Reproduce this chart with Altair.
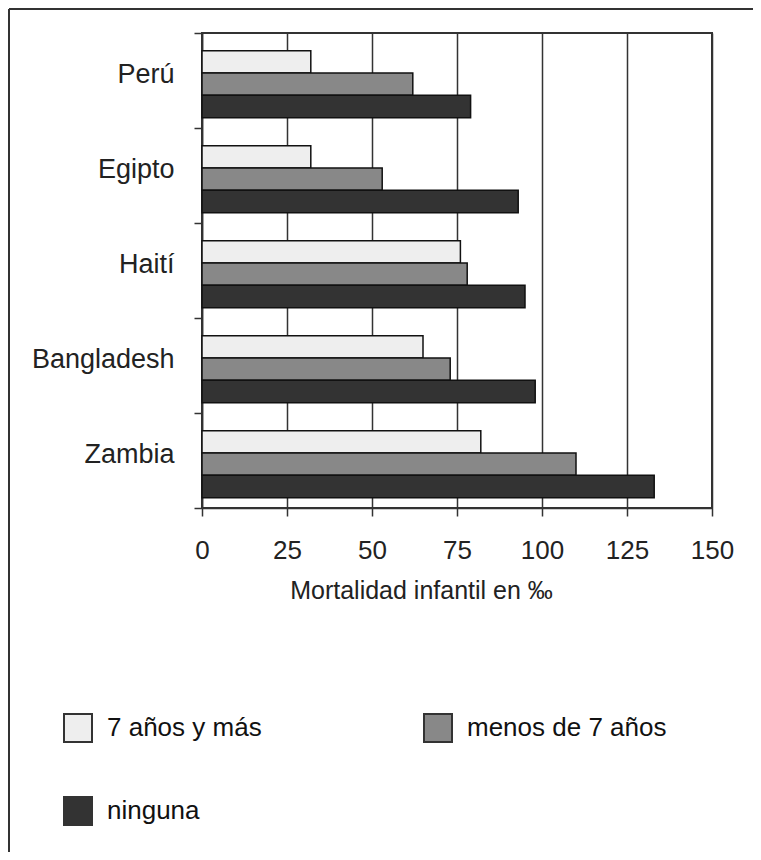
import altair as alt
import pandas as pd

countries = ["Perú", "Egipto", "Haití", "Bangladesh", "Zambia"]
series = ["7 años y más", "menos de 7 años", "ninguna"]
siete_o_mas = [32, 32, 76, 65, 82]
menos_de_siete = [62, 53, 78, 73, 110]
ninguna = [79, 93, 95, 98, 133]
colors = ["#eeeeee", "#888888", "#333333"]
x_ticks = [0, 25, 50, 75, 100, 125, 150]

rows = []
for i, c in enumerate(countries):
    for s, vals in zip(series, [siete_o_mas, menos_de_siete, ninguna]):
        rows.append({"pais": c, "nivel": s, "valor": vals[i]})
df = pd.DataFrame(rows)

FONT = "Liberation Sans"
W, H = 510, 475
PAD_L, PAD_T = 194, 25
TOTAL_W, TOTAL_H = 745, 844

bars = alt.Chart(df).mark_bar(stroke="#111111", strokeWidth=1.5).encode(
    x=alt.X(
        "valor:Q",
        scale=alt.Scale(domain=[0, 150], nice=False, zero=True),
        axis=alt.Axis(
            values=x_ticks,
            title="Mortalidad infantil en ‰",
            grid=True, gridColor="#333333", gridWidth=1.5, gridOpacity=1,
            tickSize=8, tickColor="#333333", tickWidth=1.5,
            domainColor="#333333", domainWidth=1.5,
            labelFont=FONT, labelFontSize=26, labelColor="#222222", labelPadding=21,
            labelFlush=False, labelOverlap=False,
            titleFont=FONT, titleFontSize=25, titleFontWeight="normal", titleColor="#222222",
            titleX=219, titleY=90, titleBaseline="alphabetic", titleAlign="center",
        ),
    ),
    y=alt.Y(
        "pais:N",
        sort=countries,
        scale=alt.Scale(paddingInner=0, paddingOuter=0),
        axis=alt.Axis(
            title=None, tickBand="extent",
            tickSize=8, tickColor="#333333", tickWidth=1.5,
            domainColor="#333333", domainWidth=1.5,
            labelFont=FONT, labelFontSize=27, labelColor="#222222",
            labelPadding=20, labelOffset=-6,
        ),
    ),
    yOffset=alt.YOffset(
        "nivel:N",
        sort=series,
        scale=alt.Scale(paddingInner=0, paddingOuter=0.627, align=0.63),
    ),
    color=alt.Color(
        "nivel:N",
        sort=series,
        scale=alt.Scale(domain=series, range=colors),
        legend=alt.Legend(
            title=None, orient="none", legendX=-139, legendY=680,
            direction="horizontal",
            columns=2, columnPadding=158, rowPadding=47,
            symbolType="square", symbolSize=784,
            symbolStrokeColor="#333333", symbolStrokeWidth=2, symbolOpacity=1,
            labelFont=FONT, labelFontSize=26, labelColor="#111111",
            labelOffset=14, labelLimit=400, padding=0,
        ),
    ),
)

frame_df = pd.DataFrame({"k": [0]})
frame_top = alt.Chart(frame_df).mark_rule(color="#333333", strokeWidth=2).encode(
    x=alt.value(-PAD_L + 1), x2=alt.value(TOTAL_W - PAD_L), y=alt.value(-PAD_T + 1)
)
frame_left = alt.Chart(frame_df).mark_rule(color="#333333", strokeWidth=2).encode(
    x=alt.value(-PAD_L + 1), y=alt.value(-PAD_T + 1), y2=alt.value(TOTAL_H - PAD_T)
)

chart = (
    alt.layer(bars, frame_top, frame_left)
    .properties(
        width=W, height=H,
        padding={"left": PAD_L, "top": PAD_T, "right": TOTAL_W - PAD_L - W, "bottom": TOTAL_H - PAD_T - H},
        autosize=alt.AutoSizeParams(type="none"),
        background="white",
    )
    .configure_view(stroke="#333333", strokeWidth=2)
)

chart.save("out.html", embed_options={"renderer": "svg", "actions": False})
